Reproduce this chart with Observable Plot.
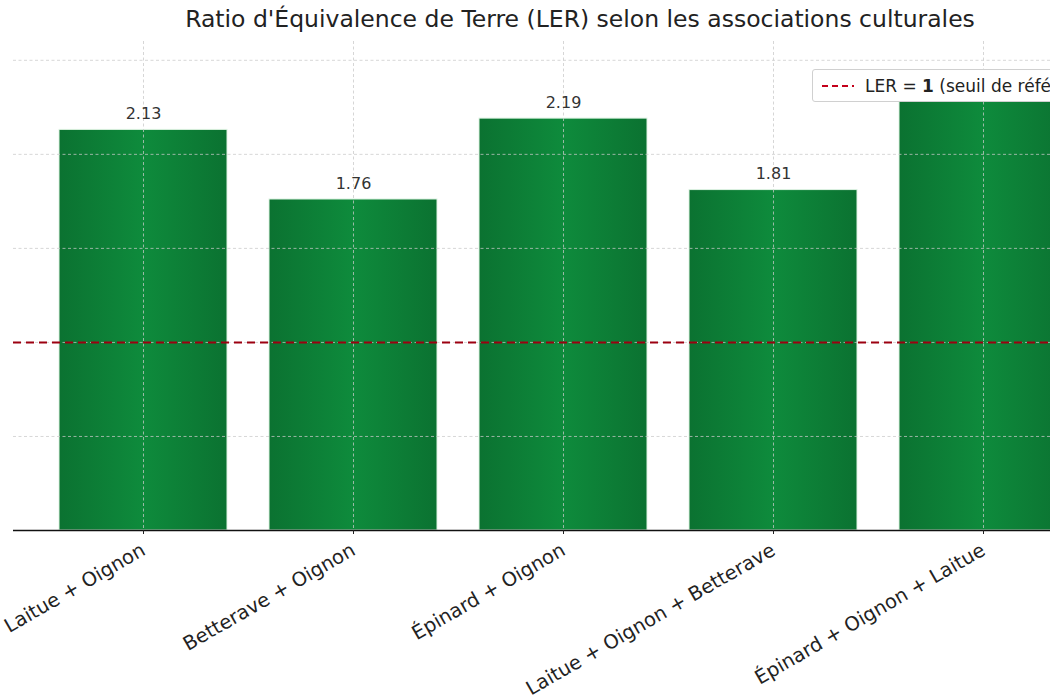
<!DOCTYPE html>
<html>
<head>
<meta charset="utf-8">
<script src="https://cdn.jsdelivr.net/npm/d3@7"></script>
<script src="https://cdn.jsdelivr.net/npm/@observablehq/plot@0.6"></script>
<style>
  html, body { margin:0; padding:0; overflow:hidden; background:#fff; width:1050px; height:699px; }
  #wrap { position:relative; width:1120px; height:699px; font-family:"DejaVu Sans", sans-serif; }
  #title { position:absolute; left:0; top:5px; width:1160px; text-align:center; font-size:23.5px; color:#222; white-space:nowrap; }
  #chart { position:absolute; left:0; top:40px; }
  #legend { position:absolute; left:812px; top:69px; width:300px; height:31px; background:#fff;
            border:1px solid #d0d0d0; border-radius:3px; display:flex; align-items:center; font-size:17px; color:#222; white-space:nowrap; }
  #legend svg { margin:0 11px 0 9px; }
</style>
</head>
<body>
<div id="wrap">
  <div id="title">Ratio d'Équivalence de Terre (LER) selon les associations culturales</div>
  <div id="chart"></div>
  <div id="legend"><svg width="32" height="10"><line x1="0" y1="5" x2="32" y2="5" stroke="#c4001a" stroke-width="2.2" stroke-dasharray="6,4"/></svg><span>LER = <b>1</b> (seuil de référence)</span></div>
</div>
<script>
const associations = ["Laitue + Oignon", "Betterave + Oignon", "Épinard + Oignon", "Laitue + Oignon + Betterave", "Épinard + Oignon + Laitue"];
const ler = [2.13, 1.76, 2.19, 1.81, 2.35];
const seuil = [1];
const yTicks = [0.5, 1, 1.5, 2, 2.5];

const data = associations.map((a, i) => ({association: a, ler: ler[i]}));
// In the reference the last bar's value label sits hidden behind the legend box.
const labelled = data.slice(0, -1);

const plot = Plot.plot({
  width: 1112,
  height: 659,
  marginLeft: 13,
  marginRight: 0,
  marginTop: 1,
  marginBottom: 169,
  style: {fontFamily: "DejaVu Sans", fontSize: "16px", color: "#222", overflow: "visible"},
  x: {domain: associations, paddingInner: 0.2, paddingOuter: 0.21, label: null},
  y: {domain: [0, 2.6], label: null},
  marks: [
    Plot.barY(data, {x: "association", y: "ler", fill: "url(#barGrad)", stroke: "#dff3e3", strokeWidth: 1}),
    Plot.gridY(yTicks, {stroke: "#c8c8c8", strokeOpacity: 0.75, strokeDasharray: "3,2.5", strokeWidth: 1}),
    Plot.gridX({stroke: "#c8c8c8", strokeOpacity: 0.75, strokeDasharray: "3,2.5", strokeWidth: 1}),
    Plot.ruleY(seuil, {stroke: "#9c0010", strokeWidth: 2, strokeDasharray: "8,5"}),
    Plot.ruleY([0], {stroke: "#111", strokeWidth: 1.5}),
    Plot.text(labelled, {x: "association", y: "ler", text: d => d.ler.toFixed(2), dy: -16, fontSize: 16, fill: "#333"}),
    Plot.axisX({tickRotate: -30, fontSize: 19.5, tickSize: 4, tickPadding: 14, stroke: "#222", fill: "#222", label: null}),
    Plot.axisY({ticks: [], label: null, tickSize: 0})
  ]
});

const ns = "http://www.w3.org/2000/svg";
const defs = document.createElementNS(ns, "defs");
const grad = document.createElementNS(ns, "linearGradient");
grad.setAttribute("id", "barGrad");
grad.setAttribute("x1", "0"); grad.setAttribute("x2", "1");
grad.setAttribute("y1", "0"); grad.setAttribute("y2", "0");
[["0", "#0b7231"], ["0.5", "#0e8b3c"], ["1", "#0b7231"]].forEach(([o, c]) => {
  const s = document.createElementNS(ns, "stop");
  s.setAttribute("offset", o); s.setAttribute("stop-color", c);
  grad.appendChild(s);
});
defs.appendChild(grad);
plot.insertBefore(defs, plot.firstChild);

document.getElementById("chart").appendChild(plot);
</script>
</body>
</html>
